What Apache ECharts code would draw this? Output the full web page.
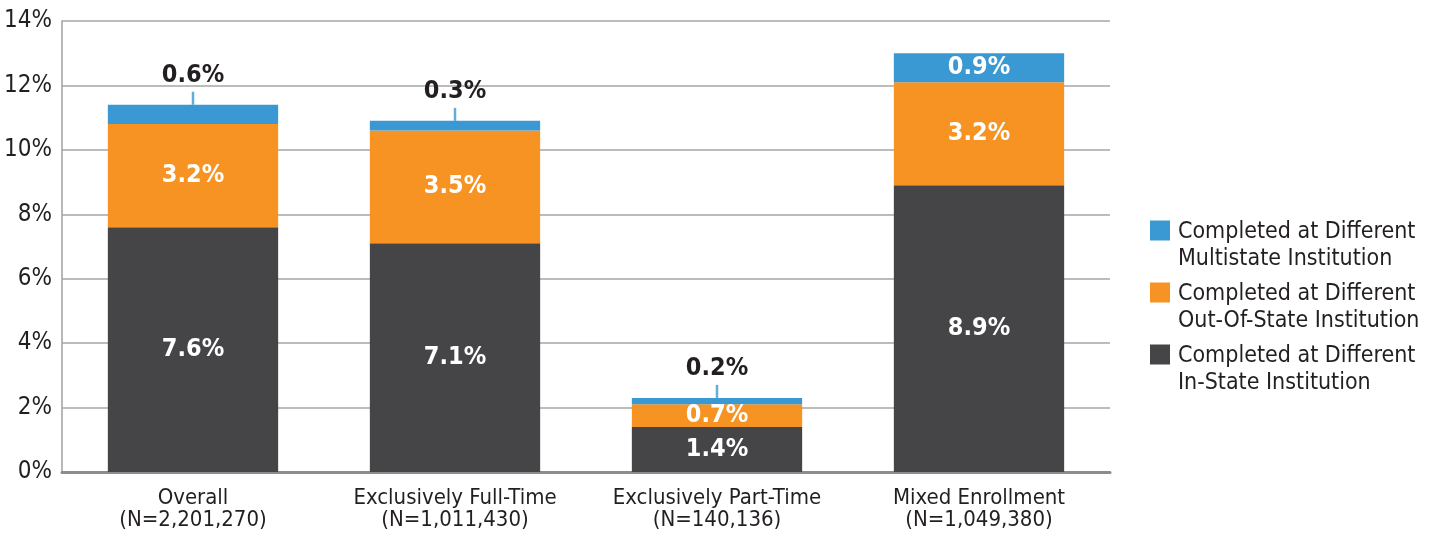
<!DOCTYPE html>
<html>
<head>
<meta charset="utf-8">
<script src="https://cdn.jsdelivr.net/npm/echarts@6/dist/echarts.min.js"></script>
<style>
html,body{margin:0;padding:0;background:#fff;}
#c{width:1440px;height:536px;}
</style>
</head>
<body>
<div id="c"></div>
<script>
const categories = ['Overall\n(N=2,201,270)', 'Exclusively Full-Time\n(N=1,011,430)', 'Exclusively Part-Time\n(N=140,136)', 'Mixed Enrollment\n(N=1,049,380)'];
const inState = [7.6, 7.1, 1.4, 8.9];
const outOfState = [3.2, 3.5, 0.7, 3.2];
const multistate = [0.6, 0.3, 0.2, 0.9];
const multistateLabelInside = [false, false, false, true];
const seriesNames = ['Completed at Different\nIn-State Institution', 'Completed at Different\nOut-Of-State Institution', 'Completed at Different\nMultistate Institution'];

const FONT = '"Liberation Sans Narrow", "DejaVu Sans Condensed", sans-serif';
const DARK = '#231f20';
const BLUE = '#3a98d3';
const ORANGE = '#f69322';
const GREY = '#454547';

const totals = inState.map((v, i) => v + outOfState[i] + multistate[i]);

const insideLabel = {
  show: true, position: 'inside', color: '#fff', fontFamily: FONT,
  fontWeight: 'bold', fontSize: 25, formatter: p => p.value + '%'
};

const chart = echarts.init(document.getElementById('c'), null, {renderer: 'canvas'});
chart.setOption({
  animation: false,
  backgroundColor: '#fff',
  grid: {left: 62, right: 330, top: 21, bottom: 64},
  legend: {
    orient: 'vertical', left: 1150, top: 188, padding: 0,
    icon: 'rect',
    itemWidth: 20, itemHeight: 20, itemGap: -21,
    data: [seriesNames[2], seriesNames[1], seriesNames[0]],
    formatter: name => {
      const parts = name.split('\n');
      return '{s|}\n{t|' + parts[0] + '}\n{t|' + parts[1] + '}';
    },
    textStyle: {
      fontFamily: FONT, fontSize: 23, color: DARK,
      rich: {
        s: {fontSize: 1, lineHeight: 31, height: 31},
        t: {fontFamily: FONT, fontSize: 23, color: DARK, lineHeight: 27, padding: [0, 0, 0, 3]}
      }
    },
    selectedMode: false
  },
  xAxis: {
    type: 'category', data: categories,
    axisLine: {lineStyle: {color: '#8c8c8c', width: 3}},
    axisTick: {show: false},
    axisLabel: {interval: 0, fontFamily: FONT, fontSize: 22, color: DARK, lineHeight: 22, margin: 15}
  },
  yAxis: {
    type: 'value', min: 0, max: 14, interval: 2,
    axisLine: {show: true, lineStyle: {color: '#a0a0a0', width: 1.5}},
    axisTick: {show: false},
    splitLine: {lineStyle: {color: '#a6a6a6', width: 1.5}},
    axisLabel: {fontFamily: FONT, fontSize: 24, color: DARK, margin: 10, formatter: '{value}%'}
  },
  series: [
    {name: seriesNames[0], type: 'bar', stack: 's', barWidth: '65%', data: inState,
     itemStyle: {color: GREY}, label: insideLabel},
    {name: seriesNames[1], type: 'bar', stack: 's', data: outOfState,
     itemStyle: {color: ORANGE}, label: insideLabel},
    {name: seriesNames[2], type: 'bar', stack: 's',
     data: multistate.map((v, i) => multistateLabelInside[i] ? {value: v} : {
       value: v,
       label: {position: 'top', color: DARK, distance: 17}
     }),
     itemStyle: {color: BLUE}, label: insideLabel},
    {name: 'leader', type: 'scatter', silent: true, z: 5,
     symbol: 'rect', symbolSize: [2.5, 13], symbolOffset: [0, -6.5],
     itemStyle: {color: BLUE},
     data: totals.map((t, i) => multistateLabelInside[i] ? '-' : t)}
  ]
});
</script>
</body>
</html>
